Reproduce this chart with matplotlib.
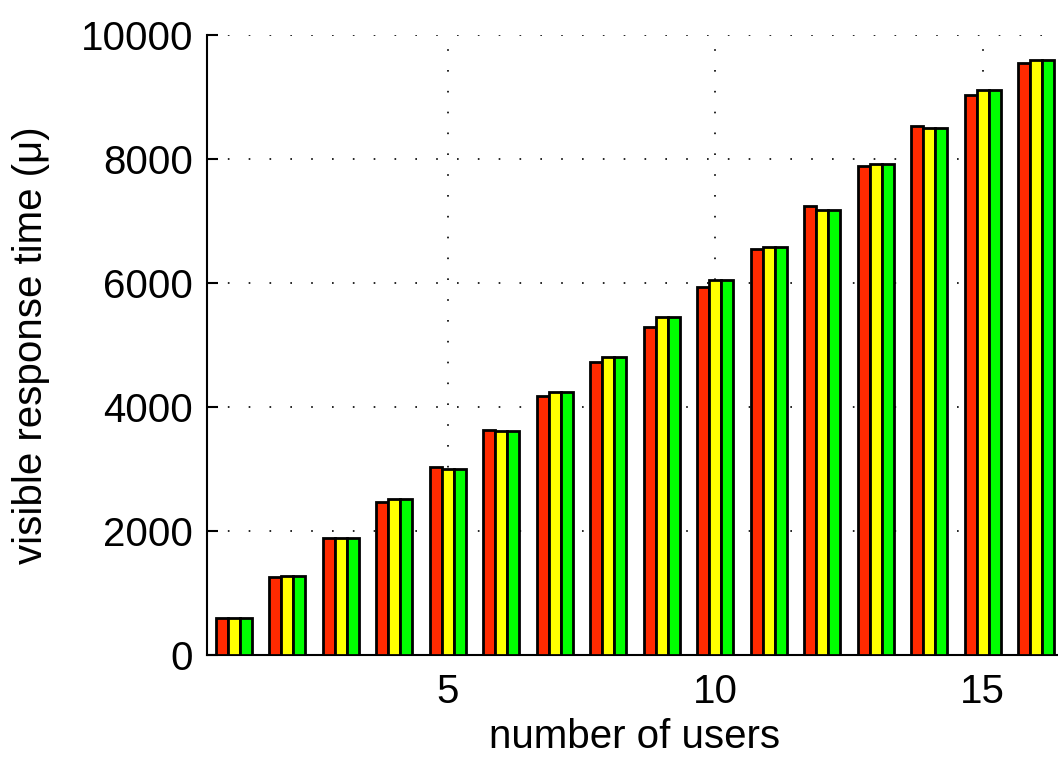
import numpy as np
import matplotlib
matplotlib.use('Agg')
import matplotlib.pyplot as plt

plt.rcParams['font.family'] = ['Liberation Sans', 'DejaVu Sans']

# 用户数
users = np.arange(1, 17)
# 三组响应时间
series_red = [600, 1260, 1895, 2465, 3035, 3630, 4175, 4720, 5295, 5935, 6550, 7250, 7895, 8540, 9035, 9555]
series_yellow = [600, 1270, 1885, 2520, 3005, 3605, 4245, 4810, 5455, 6050, 6575, 7170, 7920, 8495, 9115, 9595]
series_green = [600, 1270, 1885, 2520, 3005, 3605, 4245, 4810, 5455, 6050, 6575, 7170, 7920, 8495, 9115, 9595]
colors = ['#ff2a00', '#ffff00', '#00ff00']

fig = plt.figure(figsize=(10.58, 7.58), dpi=100)
ax = fig.add_axes([207 / 1058, 103 / 758, 856 / 1058, 620 / 758])

w = 0.222
for i, (vals, c) in enumerate(zip([series_red, series_yellow, series_green], colors)):
    ax.bar(users + (i - 1) * w, vals, width=w, color=c, edgecolor='black', linewidth=2.0, zorder=3)

ax.set_xlim(0.5, 16.5)
ax.set_ylim(0, 10000)
ax.set_xticks([5, 10, 15])
ax.set_yticks([0, 2000, 4000, 6000, 8000, 10000])
ax.grid(True, color='black', linestyle=(0, (1, 11.5)), linewidth=1.2, zorder=0)
ax.spines['top'].set_visible(False)
ax.spines['right'].set_visible(False)
ax.spines['left'].set_linewidth(1.5)
ax.spines['bottom'].set_linewidth(1.5)
ax.tick_params(direction='in', length=8, width=1.5, labelsize=29)
ax.tick_params(axis='x', pad=13)
ax.tick_params(axis='y', pad=10)
ax.set_xlabel('number of users', fontsize=29, labelpad=5)
ax.set_ylabel('visible response time (μ)', fontsize=29, labelpad=22)

plt.savefig('out.png')
